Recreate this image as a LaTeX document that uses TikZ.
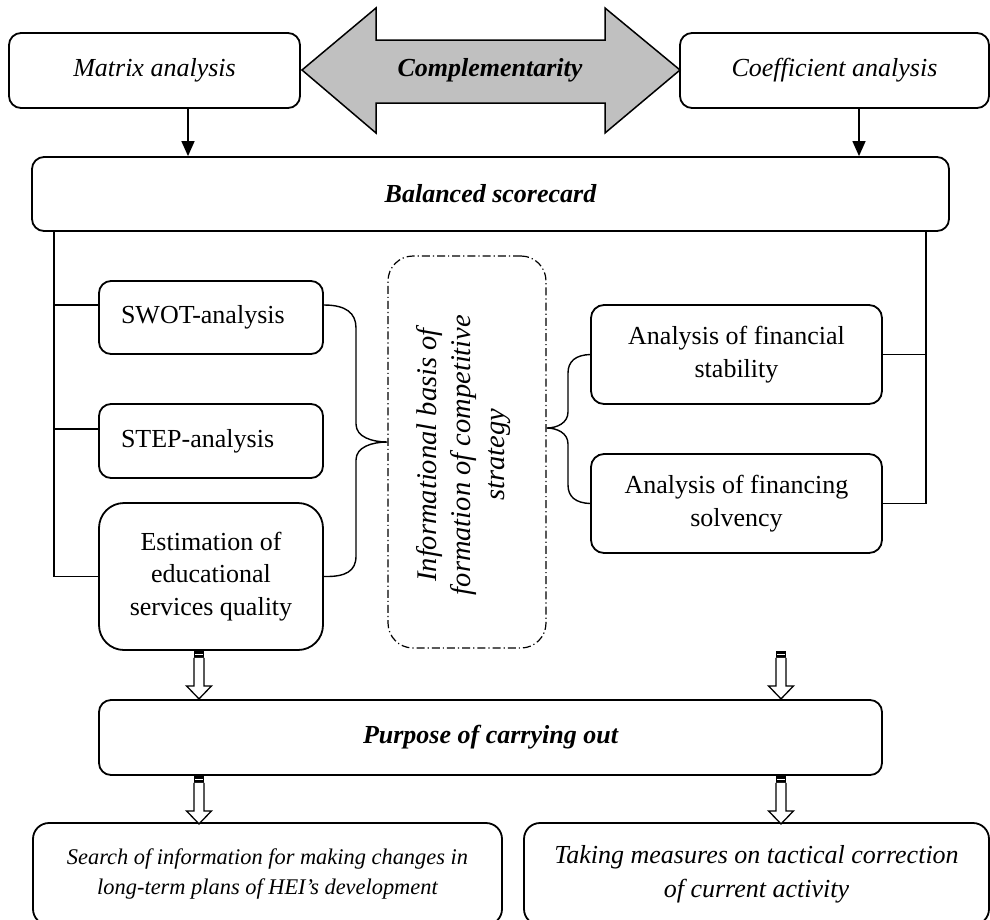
\documentclass[tikz,border=0pt]{standalone}
\usepackage{fontspec}
\setmainfont{Liberation Serif}
\usetikzlibrary{arrows.meta}
\definecolor{arrgray}{RGB}{192,192,192}
\newcommand\myfs{\fontsize{26}{32.5}\selectfont}
\newcommand\mysmallfs{\fontsize{22.4}{30}\selectfont}
\tikzset{
  box/.style={draw, line width=1.8pt, rounded corners=12pt, inner sep=0pt, align=center},
  rmtext/.style={font=\myfs},
  ittext/.style={font=\myfs\itshape},
  bitext/.style={font=\myfs\bfseries\itshape},
  conn/.style={line width=1.4pt},
  arr/.style={line width=1.4pt, -{Triangle[length=15pt,width=13pt]}},
  dashdotbox/.style={draw, line width=1.2pt, rounded corners=25pt, dash pattern=on 8pt off 3pt on 1.2pt off 3pt},
  pics/harrow/.style={code={
    \fill[black] (-5,0) rectangle (5,7);
    \draw[white, line width=1pt] (-4,3.5) -- (4,3.5);
    \draw[line width=1.3pt, fill=white, line join=miter] (-5,7) -- (-5,35) -- (-12.5,35) -- (0,48) -- (12.5,35) -- (5,35) -- (5,7);
  }}
}
\begin{document}
\begin{tikzpicture}[x=1pt,y=-1pt]
\useasboundingbox (0,0) rectangle (990,919);
\clip (0,0) rectangle (990,919);

% top boxes
\node[box, ittext, minimum width=291pt, minimum height=75pt] (matrix) at (154.5,70.5) {Matrix analysis};
\node[box, ittext, minimum width=309pt, minimum height=75pt] (coef) at (834.5,70.5) {Coefficient analysis};

% double arrow
\draw[line width=1.5pt, fill=arrgray, line join=miter] (302,70) -- (376,8) -- (376,40) -- (605,40) -- (605,8) -- (680,70) -- (605,133) -- (605,103) -- (376,103) -- (376,133) -- cycle;
\node[bitext] (compl) at (490,70) {Complementarity};

% balanced scorecard
\node[box, bitext, minimum width=917pt, minimum height=74pt] (bsc) at (490.5,194) {Balanced scorecard};

\coordinate (ma) at ([xshift=33.5pt]matrix.south);
\coordinate (ca) at ([xshift=24.5pt]coef.south);
\draw[arr] (ma) -- (ma |- bsc.north);
\draw[arr] (ca) -- (ca |- bsc.north);

% left group
\node[box, rmtext, minimum width=224pt, minimum height=73pt, text width=180pt, align=left] (swot) at (211,317.5) {SWOT-analysis};
\node[box, rmtext, minimum width=224pt, minimum height=74pt, text width=180pt, align=left] (step) at (211,441) {STEP-analysis};
\node[box, rmtext, rounded corners=25pt, minimum width=224pt, minimum height=147pt] (est) at (211,576.5) {Estimation of\\educational\\services quality};

% informational basis
\node[dashdotbox, minimum width=158pt, minimum height=392pt] (info) at (467,452) {};
\node[rotate=90, align=center, font=\fontsize{28.5}{34}\selectfont\itshape] (infotext) at ([shift={(-3,3)}]info.center) {Informational basis of\\formation of competitive\\strategy};

% right group
\node[box, rmtext, rounded corners=13pt, minimum width=291pt, minimum height=99pt] (fs) at (736.5,354.5) {Analysis of financial\\stability};
\node[box, rmtext, rounded corners=13pt, minimum width=291pt, minimum height=99pt] (fsol) at (736.5,503.5) {Analysis of financing\\solvency};

% left connectors
\coordinate (Lx) at (54,0);
\coordinate (Rx) at (926,0);
\coordinate (swotL) at ([yshift=12.5pt]swot.west);
\coordinate (stepL) at ([yshift=12pt]step.west);
\coordinate (swotR) at ([yshift=12.5pt]swot.east);
\draw[conn] (Lx |- bsc.south) -- (Lx |- est.west) -- (est.west);
\draw[conn] (Lx |- swotL) -- (swotL);
\draw[conn] (Lx |- stepL) -- (stepL);

% right connectors
\draw[conn] (Rx |- bsc.south) -- (Rx |- fsol.east) -- (fsol.east);
\draw[conn] (fs.east) -- (Rx |- fs.east);

% braces
\coordinate (tipL) at ([yshift=10pt]info.west);
\coordinate (tipR) at ([yshift=24pt]info.east);
\draw[conn] (swotR) .. controls (346,305) and (356,313) .. (356,328) -- (356,424) .. controls (356,437) and (372,442) .. (tipL) .. controls (372,442) and (356,447) .. (356,460) -- (356,556) .. controls (356,571) and (346,577) .. (est.east);
\draw[conn] (fs.west) .. controls (576,355) and (568,361) .. (568,373) -- (568,412) .. controls (568,423) and (557,428) .. (tipR) .. controls (557,428) and (568,433) .. (568,444) -- (568,485) .. controls (568,497) and (576,503) .. (fsol.west);

% purpose
\node[box, bitext, minimum width=783pt, minimum height=75pt] (pur) at (490.5,737.5) {Purpose of carrying out};

% bottom boxes
\node[box, rounded corners=16pt, font=\mysmallfs\itshape, minimum width=469pt, minimum height=102pt] (bl) at (267.5,874) {Search of information for making changes in\\long-term plans of HEI's development};
\node[box, rounded corners=16pt, font=\fontsize{26}{34}\selectfont\itshape, minimum width=465pt, minimum height=102pt] (br) at (756.5,874) {Taking measures on tactical correction\\of current activity};

% hollow arrows
\coordinate (h1) at ([xshift=-12pt]est.south);
\coordinate (h2) at ([xshift=290.5pt]pur.north |- est.south);
\coordinate (h3) at ([xshift=-291.5pt]pur.south);
\coordinate (h4) at ([xshift=290.5pt]pur.south);
\pic at (h1) {harrow};
\pic at (h2) {harrow};
\pic at (h3) {harrow};
\pic at (h4) {harrow};
\end{tikzpicture}
\end{document}
